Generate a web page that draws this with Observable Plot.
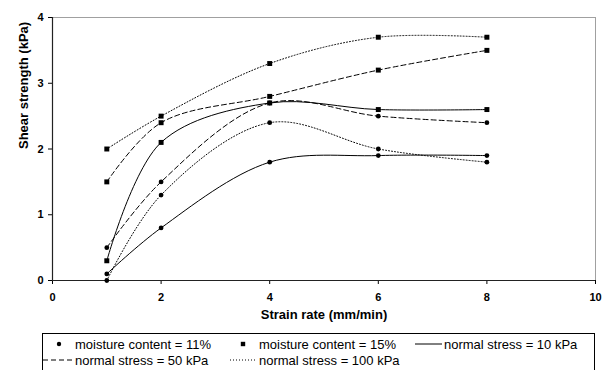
<!DOCTYPE html>
<html>
<head>
<meta charset="utf-8">
<script src="https://cdn.jsdelivr.net/npm/d3@7"></script>
<script src="https://cdn.jsdelivr.net/npm/@observablehq/plot@0.6"></script>
<style>
  html, body { margin: 0; padding: 0; background: #fff; }
  #wrap { position: relative; width: 612px; height: 370px; overflow: hidden; font-family: "Liberation Sans", Arial, sans-serif; }
  #legend { position: absolute; left: 0; top: 0; }
</style>
</head>
<body>
<div id="wrap"></div>
<script>
// ---- data ----
const strainRate = [1, 2, 4, 6, 8];
const xTicks = [0, 2, 4, 6, 8, 10];
const yTicks = [0, 1, 2, 3, 4];
// moisture content 11% (circles)
const mc11_ns10  = [0.1, 0.8, 1.8, 1.9, 1.9];
const mc11_ns50  = [0.5, 1.5, 2.7, 2.5, 2.4];
const mc11_ns100 = [0.0, 1.3, 2.4, 2.0, 1.8];
// moisture content 15% (squares)
const mc15_ns10  = [0.3, 2.1, 2.7, 2.6, 2.6];
const mc15_ns50  = [1.5, 2.4, 2.8, 3.2, 3.5];
const mc15_ns100 = [2.0, 2.5, 3.3, 3.7, 3.7];

const seriesDefs = [
  {mc: "11%", ns: "10 kPa", values: mc11_ns10},
  {mc: "11%", ns: "50 kPa", values: mc11_ns50},
  {mc: "11%", ns: "100 kPa", values: mc11_ns100},
  {mc: "15%", ns: "10 kPa", values: mc15_ns10},
  {mc: "15%", ns: "50 kPa", values: mc15_ns50},
  {mc: "15%", ns: "100 kPa", values: mc15_ns100}
];
const dashFor = {"10 kPa": null, "50 kPa": "5,3", "100 kPa": "1,2"};

const rows = seriesDefs.flatMap(s => s.values.map((v, i) => ({x: strainRate[i], y: v, mc: s.mc, ns: s.ns})));

const lineMarks = seriesDefs.map(s => Plot.line(rows.filter(r => r.mc === s.mc && r.ns === s.ns), {
  x: "x", y: "y", curve: "catmull-rom", stroke: "#000", strokeWidth: 1,
  strokeDasharray: dashFor[s.ns]
}));

const chart = Plot.plot({
  width: 612,
  height: 330,
  marginLeft: 52,
  marginRight: 17,
  marginTop: 17,
  marginBottom: 50,
  style: {fontFamily: "'Liberation Sans', Arial, sans-serif", background: "#fff", color: "#000"},
  x: {domain: [0, 10], ticks: xTicks, label: null},
  y: {domain: [0, 4], ticks: yTicks, label: null},
  marks: [
    Plot.ruleY([4], {stroke: "#a0a0a0", strokeWidth: 1}),
    Plot.ruleX([10], {stroke: "#a0a0a0", strokeWidth: 1}),
    Plot.axisX({ticks: xTicks, tickFormat: "d", tickSize: 4, tickPadding: 9, fontSize: 11, fontWeight: "bold", label: null}),
    Plot.axisY({ticks: yTicks, tickFormat: "d", tickSize: 4, tickPadding: 5, fontSize: 11, fontWeight: "bold", label: null}),
    Plot.ruleX([0], {stroke: "#222", strokeWidth: 1.2}),
    Plot.ruleY([0], {stroke: "#222", strokeWidth: 1.2}),
    ...lineMarks,
    Plot.dot(rows.filter(r => r.mc === "11%"), {x: "x", y: "y", r: 2.4, fill: "#000", stroke: null}),
    Plot.dot(rows.filter(r => r.mc === "15%"), {x: "x", y: "y", symbol: "square", r: 2.8, fill: "#000", stroke: null}),
    Plot.text(["Strain rate (mm/min)"], {frameAnchor: "bottom", dy: 38, fontSize: 13, fontWeight: "bold"}),
    Plot.text(["Shear strength (kPa)"], {frameAnchor: "left", dx: -29, rotate: -90, fontSize: 13, fontWeight: "bold"})
  ]
});
chart.style.position = "absolute";
chart.style.left = "0px";
chart.style.top = "0px";
document.getElementById("wrap").appendChild(chart);

// ---- legend (SVG below the plot) ----
const legendItems = [
  {label: "moisture content = 11%", kind: "circle", row: 0, x: 59, tx: 75},
  {label: "moisture content = 15%", kind: "square", row: 0, x: 243, tx: 259},
  {label: "normal stress = 10 kPa", kind: "line", dash: null, row: 0, x: 415, tx: 444},
  {label: "normal stress = 50 kPa", kind: "line", dash: "5,3", row: 1, x: 43, tx: 75},
  {label: "normal stress = 100 kPa", kind: "line", dash: "1,2", row: 1, x: 230, tx: 259}
];
const ns = "http://www.w3.org/2000/svg";
const leg = document.createElementNS(ns, "svg");
leg.setAttribute("id", "legend");
leg.setAttribute("width", 612);
leg.setAttribute("height", 370);
leg.style.position = "absolute";
leg.style.pointerEvents = "none";
const box = document.createElementNS(ns, "rect");
box.setAttribute("x", 42.5); box.setAttribute("y", 333.5);
box.setAttribute("width", 552); box.setAttribute("height", 50);
box.setAttribute("fill", "none"); box.setAttribute("stroke", "#000");
leg.appendChild(box);
const rowY = [344, 360];
for (const it of legendItems) {
  const cy = rowY[it.row];
  if (it.kind === "circle") {
    const c = document.createElementNS(ns, "circle");
    c.setAttribute("cx", it.x); c.setAttribute("cy", cy); c.setAttribute("r", 2.2);
    leg.appendChild(c);
  } else if (it.kind === "square") {
    const r = document.createElementNS(ns, "rect");
    r.setAttribute("x", it.x - 2.2); r.setAttribute("y", cy - 2.2);
    r.setAttribute("width", 4.4); r.setAttribute("height", 4.4);
    leg.appendChild(r);
  } else {
    const l = document.createElementNS(ns, "line");
    l.setAttribute("x1", it.x); l.setAttribute("x2", it.tx - 2);
    l.setAttribute("y1", cy); l.setAttribute("y2", cy);
    l.setAttribute("stroke", "#000"); l.setAttribute("stroke-width", 1);
    if (it.dash) l.setAttribute("stroke-dasharray", it.dash);
    leg.appendChild(l);
  }
  const t = document.createElementNS(ns, "text");
  t.setAttribute("x", it.tx); t.setAttribute("y", cy);
  t.setAttribute("dy", "0.35em");
  t.setAttribute("font-size", 13);
  t.setAttribute("font-family", "'Liberation Sans', Arial, sans-serif");
  t.textContent = it.label;
  leg.appendChild(t);
}
document.getElementById("wrap").appendChild(leg);
</script>
</body>
</html>
